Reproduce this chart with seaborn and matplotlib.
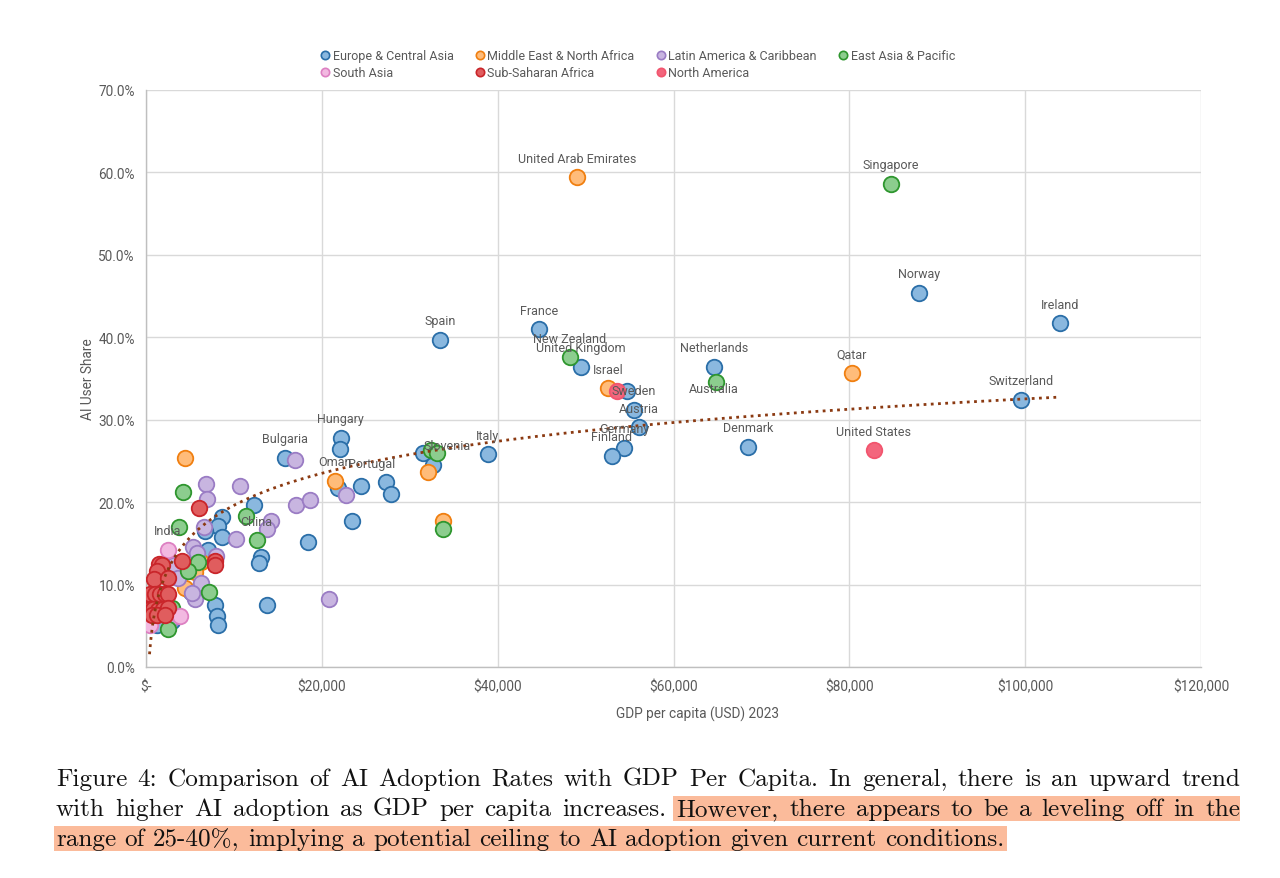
import numpy as np
import pandas as pd
import matplotlib
matplotlib.use("Agg")
import matplotlib.pyplot as plt
import seaborn as sns
from matplotlib.ticker import FuncFormatter
from matplotlib.lines import Line2D
from matplotlib.patches import Rectangle

# ---------------- data (GDP per capita USD 2023, AI user share %) ----------------
REGIONS = ["Europe & Central Asia", "Middle East & North Africa", "Latin America & Caribbean",
           "East Asia & Pacific", "South Asia", "Sub-Saharan Africa", "North America"]

eca_gdp = [87920, 103960, 33440, 44700, 49480, 54710, 55500, 56070, 54370, 53000, 64600, 99520,
           68470, 38900, 31500, 32640, 27300, 27830, 24450, 22140, 22030, 21870, 15770, 23390,
           18430, 13730, 12250, 8600, 8230, 8600, 6750, 13080, 12850, 7090, 7850, 8040, 8230,
           5120, 1210, 2990]
eca_share = [45.4, 41.7, 39.7, 41.0, 36.4, 33.5, 31.2, 29.1, 26.6, 25.6, 36.4, 32.4,
             26.7, 25.8, 26.0, 24.5, 22.4, 21.0, 22.0, 27.8, 26.4, 21.7, 25.4, 17.7,
             15.2, 7.5, 19.7, 18.2, 17.1, 15.8, 16.5, 13.4, 12.6, 14.2, 7.5, 6.2, 5.1,
             9.1, 5.1, 5.6]
eca_name = ["Norway", "Ireland", "Spain", "France", "United Kingdom", "", "Sweden", "Austria",
            "Germany", "Finland", "Netherlands", "Switzerland", "Denmark", "Italy", "", "Slovenia",
            "Portugal", "", "", "Hungary", "", "", "Bulgaria", "", "", "", "", "", "", "", "", "",
            "", "", "", "", "", "", "", ""]

mena_gdp = [49020, 52550, 80300, 32070, 21530, 33740, 4436, 6220, 4440, 5570]
mena_share = [59.4, 33.8, 35.7, 23.7, 22.6, 17.7, 25.3, 12.7, 9.6, 11.5]
mena_name = ["United Arab Emirates", "Israel", "Qatar", "", "Oman", "", "", "", "", ""]

lac_gdp = [16910, 17060, 18690, 22780, 20780, 6824, 6900, 10650, 14180, 13730, 6600, 10240,
           5370, 5760, 7930, 6220, 5570, 3220, 3670, 2840, 5200]
lac_share = [25.1, 19.6, 20.3, 20.9, 8.3, 22.2, 20.4, 21.9, 17.7, 16.7, 17.0, 15.5,
             14.6, 13.8, 13.5, 10.2, 8.3, 12.4, 10.8, 5.8, 9.0]
lac_name = [""] * len(lac_gdp)

eap_gdp = [84740, 48230, 64830, 32400, 33100, 33780, 4245, 11370, 12590, 3790, 5950, 7150,
           4810, 2920, 2470]
eap_share = [58.6, 37.6, 34.6, 26.3, 26.0, 16.7, 21.2, 18.3, 15.4, 17.0, 12.7, 9.1,
             11.7, 7.2, 4.6]
eap_name = ["Singapore", "New Zealand", "Australia", "", "", "", "", "", "China", "", "", "",
            "", "", ""]

sa_gdp = [2470, 3860, 400]
sa_share = [14.2, 6.2, 5.1]
sa_name = ["India", "", ""]

ssa_gdp = [5990, 7850, 7850, 4130, 1480, 1780, 1250, 910, 2470, 460, 1020, 1590, 2160, 2540,
           400, 830, 1400, 1970, 2540, 700, 1250, 2160]
ssa_share = [19.3, 12.9, 12.4, 12.8, 12.5, 12.4, 11.7, 10.7, 10.8, 8.9, 8.9, 8.9, 8.9, 8.8,
             7.0, 7.0, 6.9, 7.0, 7.1, 6.3, 6.3, 6.3]
ssa_name = [""] * len(ssa_gdp)

na_gdp = [82800, 53570]
na_share = [26.3, 33.5]
na_name = ["United States", ""]

# logarithmic trendline y = a*ln(x) + b
TREND_A = 0.0561
TREND_B = -0.3206

X_TICKS = [0, 20000, 40000, 60000, 80000, 100000, 120000]
Y_TICKS = [0.0, 0.1, 0.2, 0.3, 0.4, 0.5, 0.6, 0.7]

CAPTION = [
    "Figure 4: Comparison of AI Adoption Rates with GDP Per Capita. In general, there is an upward trend",
    "with higher AI adoption as GDP per capita increases. However, there appears to be a leveling off in the",
    "range of 25-40%, implying a potential ceiling to AI adoption given current conditions.",
]

# ---------------- build table ----------------
parts = [(eca_gdp, eca_share, eca_name), (mena_gdp, mena_share, mena_name),
         (lac_gdp, lac_share, lac_name), (eap_gdp, eap_share, eap_name),
         (sa_gdp, sa_share, sa_name), (ssa_gdp, ssa_share, ssa_name),
         (na_gdp, na_share, na_name)]
frames = []
for reg, (g, s, n) in zip(REGIONS, parts):
    frames.append(pd.DataFrame({"gdp": g, "share": np.array(s) / 100.0, "name": n, "region": reg}))
df = pd.concat(frames, ignore_index=True)

# ---------------- style ----------------
base = {
    "Europe & Central Asia": "#3585c8",
    "Middle East & North Africa": "#ff8c1a",
    "Latin America & Caribbean": "#a07fca",
    "East Asia & Pacific": "#38a83d",
    "South Asia": "#e887cc",
    "Sub-Saharan Africa": "#d62728",
    "North America": "#f2556e",
}
edge = {
    "Europe & Central Asia": "#2a6ea8",
    "Middle East & North Africa": "#f07f10",
    "Latin America & Caribbean": "#9a7cc4",
    "East Asia & Pacific": "#2e962e",
    "South Asia": "#dd80c2",
    "Sub-Saharan Africa": "#c9252a",
    "North America": "#f2556e",
}
def lighten(c, f):
    r, g, b = matplotlib.colors.to_rgb(c)
    return (r + (1 - r) * f, g + (1 - g) * f, b + (1 - b) * f)
fill = {k: lighten(v, 0.42) for k, v in base.items()}
fill["Sub-Saharan Africa"] = lighten(base["Sub-Saharan Africa"], 0.25)
fill["North America"] = lighten(base["North America"], 0.1)

GRAY = "#595959"
sns.set_theme(style="white")
plt.rcParams["font.family"] = ["Roboto", "DejaVu Sans"]

W, H = 1280, 879
fig = plt.figure(figsize=(W / 100, H / 100), dpi=100)
ax = fig.add_axes([146 / W, 1 - 668 / H, 1055 / W, 577 / H])

for reg in REGIONS:
    sub = df[df["region"] == reg]
    sns.scatterplot(data=sub, x="gdp", y="share", ax=ax, s=125, color=fill[reg],
                    edgecolor=edge[reg], linewidth=1.3, zorder=3, legend=False)

# logarithmic trendline over the data range
xs = np.geomspace(df["gdp"].min(), df["gdp"].max(), 500)
sns.lineplot(x=xs, y=TREND_A * np.log(xs) + TREND_B, ax=ax, color="#8b3a12",
             linestyle=(0, (1, 1.6)), linewidth=2, zorder=4)

# data labels
offsets = {"Australia": (-2, -7), "Portugal": (-14, 19), "Slovenia": (14, 20)}
for _, r in df[df["name"] != ""].iterrows():
    dx, dy = offsets.get(r["name"], (0, 19))
    ax.annotate(r["name"], (r["gdp"], r["share"]), xytext=(dx, dy), textcoords="offset pixels",
                ha="center", va="center", fontsize=9, color=GRAY, zorder=5)

ax.set_xlim(0, 120000)
ax.set_ylim(0, 0.70)
ax.set_xticks(X_TICKS)
ax.set_yticks(Y_TICKS)
ax.xaxis.set_major_formatter(FuncFormatter(lambda v, p: "$-" if v == 0 else f"${v:,.0f}"))
ax.yaxis.set_major_formatter(FuncFormatter(lambda v, p: f"{v * 100:.1f}%"))
ax.tick_params(axis="both", length=0, labelsize=9.8, labelcolor=GRAY)
ax.tick_params(axis="y", pad=8)
ax.tick_params(axis="x", pad=9)
ax.grid(True, color="#d9d9d9", linewidth=1)
ax.set_axisbelow(True)
for sp in ["top", "right"]:
    ax.spines[sp].set_visible(False)
for sp in ["left", "bottom"]:
    ax.spines[sp].set_color("#bfbfbf")
    ax.spines[sp].set_linewidth(1)
ax.set_xlabel("GDP per capita (USD) 2023", fontsize=9.8, color=GRAY, ha="center", va="center")
ax.set_ylabel("AI User Share", fontsize=9.8, color=GRAY, ha="center", va="center")
ax.xaxis.set_label_coords((697 - 146) / 1055, -(714 - 668) / 577)
ax.yaxis.set_label_coords((88 - 146) / 1055, 0.5)

# legend (row-wise order)
order = [0, 4, 1, 5, 2, 6, 3]
handles = [Line2D([], [], marker="o", linestyle="", markersize=6, markerfacecolor=fill[REGIONS[i]],
                  markeredgecolor=edge[REGIONS[i]], markeredgewidth=1.2) for i in order]
labels = [REGIONS[i] for i in order]
leg = fig.legend(handles, labels, loc="center", bbox_to_anchor=(637 / W, 1 - 65 / H), ncol=4,
                 frameon=False, fontsize=9, handletextpad=0.1, columnspacing=1.6,
                 labelspacing=0.3, handlelength=1.0)
for t in leg.get_texts():
    t.set_color(GRAY)

# ---------------- caption (justified, serif) ----------------
fig.canvas.draw()
rend = fig.canvas.get_renderer()
cap_font = ["cmr10", "DejaVu Serif"]

def word_width(w, size):
    t = fig.text(0, 0, w, fontsize=size, family=cap_font)
    wd = t.get_window_extent(rend).width
    t.remove()
    return wd

probe = 16
natural = word_width(CAPTION[2], probe)
csize = probe * (1003 - 56) / natural

left, right = 56, 1240
baselines = [786, 816, 846]
hl_color = "#fbbb9b"
for li, line in enumerate(CAPTION):
    words = line.split(" ")
    widths = [word_width(w, csize) for w in words]
    if li < 2:
        gap = (right - left - sum(widths)) / (len(words) - 1)
    else:
        gap = word_width("a b", csize) - word_width("ab", csize)
    x = left
    positions = []
    for w, wd in zip(words, widths):
        positions.append(x)
        x += wd + gap
    end_x = positions[-1] + widths[-1]
    hl_start = None
    if li == 1:
        hl_start = positions[words.index("However,")] - 4
        hl_end = right
    elif li == 2:
        hl_start = left - 2
        hl_end = end_x + 3
    if hl_start is not None:
        y_top = baselines[li] - 19
        fig.patches.append(Rectangle((hl_start / W, 1 - (y_top + 25) / H), (hl_end - hl_start) / W,
                                     25 / H, transform=fig.transFigure, facecolor=hl_color,
                                     edgecolor="none", zorder=0))
    for w, xp in zip(words, positions):
        fig.text(xp / W, 1 - baselines[li] / H, w, fontsize=csize, family=cap_font,
                 ha="left", va="baseline", color="#111111", zorder=2)

fig.savefig("out.png", dpi=100)
